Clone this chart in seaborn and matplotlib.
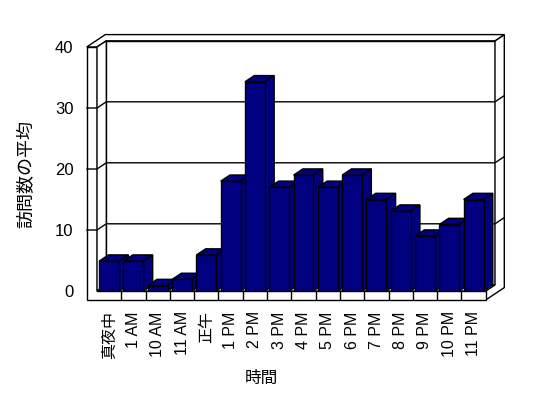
import numpy as np
import pandas as pd
import seaborn as sns
import matplotlib.pyplot as plt
from matplotlib.patches import Polygon

# Data
hours = ['真夜中', '1 AM', '10 AM', '11 AM', '正午', '1 PM', '2 PM', '3 PM',
         '4 PM', '5 PM', '6 PM', '7 PM', '8 PM', '9 PM', '10 PM', '11 PM']
visits = [4.9, 4.9, 0.9, 1.9, 5.9, 18.0, 34.3, 17.0,
          19.0, 17.0, 19.0, 15.0, 13.1, 9.0, 10.9, 15.0]
y_ticks = [0, 10, 20, 30, 40]

sns.set_theme(style='white')
plt.rcParams['font.family'] = ['Liberation Sans', 'Noto Sans CJK JP', 'DejaVu Sans']

W, H = 548, 398
fig = plt.figure(figsize=(W / 100, H / 100), dpi=100)
# front plane of the 3D box, in pixels
left_px, right_px, top_px, bottom_px = 97, 485.7, 47, 291
ax = fig.add_axes([left_px / W, (H - bottom_px) / H,
                   (right_px - left_px) / W, (bottom_px - top_px) / H])

df = pd.DataFrame({'時間': hours, '訪問数の平均': visits})
sns.barplot(data=df, x='時間', y='訪問数の平均', color='#000080', saturation=1,
            width=0.82, edgecolor='black', linewidth=1, ax=ax)
bars = list(ax.patches)

x0, x1, top = -0.5, len(hours) - 0.5, 40
ax.set_xlim(x0, x1)
ax.set_ylim(0, top)

# pixel sizes of the fake depth -> data units
ux = (right_px - left_px) / len(hours)
uy = (bottom_px - top_px) / top
dx, dy = 9.3 / ux, 6.2 / uy
tw = 10.3 / ux   # left wall thickness
ft = 9.0 / uy    # floor thickness

wall = dict(facecolor='white', edgecolor='black', linewidth=1, clip_on=False, zorder=1)
# back wall face
ax.add_patch(Polygon([(x0 + dx, dy), (x1 + dx, dy), (x1 + dx, top + dy), (x0 + dx, top + dy)], **wall))
# right side of back wall + floor
ax.add_patch(Polygon([(x1, -ft), (x1 + 2 * dx, -ft + 2 * dy), (x1 + 2 * dx, top + 2 * dy),
                      (x1 + dx, top + dy), (x1 + dx, dy), (x1, 0)], **wall))
# top of the walls
ax.add_patch(Polygon([(x0 - tw, top), (x0, top), (x0 + dx, top + dy), (x1 + dx, top + dy),
                      (x1 + 2 * dx, top + 2 * dy), (x0 - tw + 2 * dx, top + 2 * dy)], **wall))
# left wall front + floor front
ax.add_patch(Polygon([(x0 - tw, -ft), (x1, -ft), (x1, 0), (x0, 0), (x0, top), (x0 - tw, top)], **wall))
# left wall inner face
ax.add_patch(Polygon([(x0, 0), (x0 + dx, dy), (x0 + dx, top + dy), (x0, top)], **wall))
# floor top
ax.add_patch(Polygon([(x0, 0), (x1, 0), (x1 + dx, dy), (x0 + dx, dy)], **wall))

# gridlines wrapping the walls
for v in y_ticks[1:-1]:
    ax.plot([x0 - tw, x0, x0 + dx, x1 + dx, x1 + 2 * dx],
            [v, v, v + dy, v + dy, v + 2 * dy],
            color='black', linewidth=1, clip_on=False, zorder=1.5)
# category ticks on the floor front
for i in range(len(hours) - 1):
    ax.plot([i + 0.5, i + 0.5], [0, -ft], color='black', linewidth=1, clip_on=False, zorder=1.5)

# 3D faces of the bars (top + right side), each bar over the previous one
for i, p in enumerate(bars):
    bx, bw, bh = p.get_x(), p.get_width(), p.get_height()
    p.set_zorder(4 + 2 * i)
    face = dict(facecolor='#000080', edgecolor='black', linewidth=1, clip_on=False, zorder=3 + 2 * i)
    ax.add_patch(Polygon([(bx, bh), (bx + bw, bh), (bx + bw + dx, bh + dy), (bx + dx, bh + dy)], **face))
    ax.add_patch(Polygon([(bx + bw, 0), (bx + bw + dx, dy), (bx + bw + dx, bh + dy), (bx + bw, bh)], **face))

for s in ax.spines.values():
    s.set_visible(False)
ax.set_yticks(y_ticks)
ax.tick_params(axis='y', length=0, pad=17, labelsize=12, labelcolor='black')
ax.tick_params(axis='x', length=0, pad=14.5, labelsize=11.5, labelcolor='black', rotation=90)
for t in ax.get_xticklabels():
    t.set_va('top')

ax.set_xlabel('時間', fontsize=12, color='black')
ax.set_ylabel('訪問数の平均', fontsize=13, color='black')
ax.xaxis.set_label_coords((261 - left_px) / (right_px - left_px), (bottom_px - 378) / (bottom_px - top_px))
ax.yaxis.set_label_coords((26.5 - left_px) / (right_px - left_px), (bottom_px - 174) / (bottom_px - top_px))
ax.xaxis.label.set_va('center')
ax.yaxis.label.set_va('center')

fig.savefig('out.png', dpi=100)
